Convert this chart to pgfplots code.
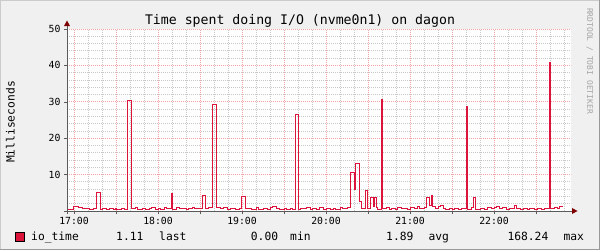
\documentclass[border=0pt]{standalone}
\usepackage{fontspec}
\setmainfont{DejaVu Sans Mono}
\usepackage{pgfplots}
\pgfplotsset{compat=1.18}
\definecolor{bgc}{HTML}{F0F0F0}
\definecolor{shadeA}{HTML}{CBCBCB}
\definecolor{shadeB}{HTML}{999999}
\definecolor{gridc}{RGB}{200,200,200}
\definecolor{mgridc}{RGB}{245,165,165}
\definecolor{axisc}{RGB}{90,90,90}
\definecolor{arrowc}{HTML}{7F0000}
\definecolor{ioc}{RGB}{220,20,60}
\definecolor{wmc}{RGB}{165,165,165}
\begin{document}
\begin{tikzpicture}[x=1bp,y=1bp]
\useasboundingbox (0,0) rectangle (600,250);
\fill[bgc] (0,0) rectangle (600,250);
\draw[shadeA, line width=1bp] (0.5,0) -- (0.5,249.5) -- (600,249.5);
\draw[shadeB, line width=1bp] (0,0.5) -- (599.5,0.5) -- (599.5,250);
\begin{axis}[
  name=ax, at={(67bp,39bp)}, anchor=south west,
  scale only axis, width=504bp, height=182bp,
  xmin=-5, xmax=355, ymin=0, ymax=50,
  axis background/.style={fill=white},
  axis x line*=bottom, axis y line*=left, axis line style={draw=none},
  xtick={0,30,...,330},
  xticklabels={17:00,,18:00,,19:00,,20:00,,21:00,,22:00,},
  minor xtick={10,20,...,350},
  ytick={0,10,...,50},
  yticklabels={,10,20,30,40,50},
  minor ytick={2,4,...,48},
  grid=both,
  minor grid style={draw=gridc, dash pattern=on 1bp off 1bp, line width=0.8bp},
  major grid style={draw=mgridc, dash pattern=on 1bp off 1bp, line width=0.8bp},
  tick align=outside, major tick length=3bp, minor tick length=0bp,
  tick style={draw=axisc, line width=0.6bp},
  ticklabel style={font=\fontsize{9.8bp}{11bp}\selectfont, text=black},
  /pgf/number format/assume math mode=true,
  clip=false,
]
\addplot[const plot mark left, draw=ioc, line width=1bp, mark=none] coordinates {
(-5,0.5) (-0.7,1.2) (2.9,0.9) (6.4,0.6) (9.3,0.8) (11.4,0.5) (13.6,0.6)
(16.2,5.2) (18.7,0.5) (20.7,0.7) (22.9,0.4) (25.7,0.6) (27.9,0.3) (29.3,0.8)
(30.7,0.4) (33.6,0.6) (36.4,0.5) (38.4,30.3) (40.8,0.6) (43.6,0.9) (45.7,0.5)
(48.6,0.7) (51.4,0.4) (53.6,0.6) (55.7,0.9) (57.9,0.5) (60,0.7) (62.1,0.5)
(64.3,0.9) (66.4,0.6) (69.3,4.9) (70.7,0.5) (72.9,1.0) (75,0.6) (77.9,0.8)
(80,0.5) (82.1,0.7) (84.3,0.9) (86.4,0.6) (89.3,0.8) (91.9,4.3) (94.0,0.6)
(96.4,0.9) (99.1,29.3) (101.5,0.9) (104.3,0.7) (107.1,0.9) (109.3,0.5)
(112.1,0.7) (115,0.5) (117.9,0.7) (119.8,4.0) (122.2,0.6) (125,0.8) (127.1,0.5)
(130,0.9) (132.1,0.5) (135,0.7) (137.9,0.5) (140,0.9) (142.1,1.3) (144.3,0.8)
(147.1,0.5) (150,0.7) (152.1,0.4) (154.3,0.8) (156.4,0.5) (158.4,26.5)
(160.6,0.5) (162.1,0.8) (164.3,0.6) (166.4,0.9) (168.6,0.5) (170.7,0.7)
(172.9,0.5) (175.7,1.0) (177.9,0.4) (180.7,0.6) (182.9,0.5) (185,0.7)
(187.1,0.4) (190,0.9) (192.1,0.6) (195.7,1.0) (197.7,10.6) (200,6.0)
(201.4,13.1) (203.6,2.5) (205,0.6) (207.9,5.5) (209.3,0.6) (211.8,3.6)
(213.6,1.3) (214.3,3.8) (215.9,0.9) (217.1,0.5) (219.3,30.7) (220.7,0.6)
(222.9,0.9) (225,0.5) (227.1,0.7) (229.3,0.5) (231.4,0.9) (233.6,0.6)
(235.7,0.8) (237.9,0.5) (240.7,0.9) (242.9,0.6) (245,1.1) (247.1,0.6)
(250,1.0) (252.1,3.6) (253.6,1.5) (255,4.2) (256.4,1.2) (257.9,0.7)
(260,1.1) (262.1,1.4) (263.6,0.8) (265.7,0.5) (267.9,0.7) (270,0.4)
(272.1,0.7) (274.3,0.5) (277.1,0.8) (280,28.7) (281.4,0.5) (283.6,0.9)
(285.7,3.6) (287.1,0.5) (290,0.7) (292.9,0.5) (295.7,0.9) (297.9,0.6)
(300.7,1.0) (302.1,1.3) (303.6,0.7) (306.4,0.9) (308.6,0.5) (311.4,0.8)
(314.3,1.6) (316.4,0.8) (318.6,0.5) (321.4,0.8) (323.6,0.5) (325.7,0.7)
(328.6,0.5) (331.4,0.8) (333.6,0.5) (336.4,0.7) (339.3,40.7) (340.7,0.6)
(342.9,0.9) (345,0.6) (347.1,1.1) (349.3,1.1)
};
\end{axis}
% axes with arrows
\draw[axisc, line width=1bp] (67,36) -- (67,225);
\fill[arrowc] (64,224) -- (70,224) -- (67,229.5) -- cycle;
\draw[axisc, line width=1bp] (64,39) -- (573,39);
\fill[arrowc] (572,36) -- (572,42) -- (577.5,39) -- cycle;
% title
\node[anchor=base, inner sep=0, font=\fontsize{13.2bp}{15bp}\selectfont] at (300,226) {Time spent doing I/O (nvme0n1) on dagon};
% unit
\node[anchor=base, inner sep=0, rotate=90, font=\fontsize{11.3bp}{13bp}\selectfont] at (14.5,128) {Milliseconds};
% watermark
\node[anchor=base, inner sep=0, rotate=-90, text=wmc, font=\fontsize{8bp}{9bp}\selectfont] at (587,189) {RRDTOOL / TOBI OETIKER};
% legend
\filldraw[fill=ioc, draw=black, line width=0.8bp] (15,9) rectangle (24,18);
\begin{scope}[every node/.style={anchor=base west, inner sep=0, font=\fontsize{11.3bp}{13bp}\selectfont}]
\node at (31,10) {io\_time};
\node at (116,10) {1.11};
\node at (159,10) {last};
\node at (250.7,10) {0.00};
\node at (290,10) {min};
\node at (386,10) {1.89};
\node at (428.3,10) {avg};
\node at (507.3,10) {168.24};
\node at (563.3,10) {max};
\end{scope}
\end{tikzpicture}
\end{document}
